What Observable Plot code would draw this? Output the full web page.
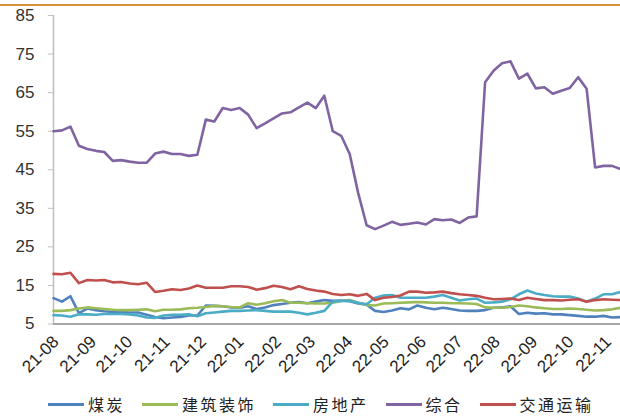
<!DOCTYPE html>
<html>
<head>
<meta charset="utf-8">
<script src="https://cdn.jsdelivr.net/npm/d3@7"></script>
<script src="https://cdn.jsdelivr.net/npm/@observablehq/plot@0.6"></script>
<style>
  html, body { margin: 0; padding: 0; background: #fff; }
  #wrap { position: relative; width: 620px; height: 416px; }
  #topline { position: absolute; left: 0; top: 4px; width: 620px; height: 2px; background: #D4923A; }
  #chart { position: absolute; left: 0; top: 0; }
  #legend { position: absolute; left: 48px; top: 394px; height: 20px; line-height: 20px; display: flex; align-items: center;
            font-family: "Noto Sans CJK SC", sans-serif; font-size: 16px; color: #222; letter-spacing: 2.5px; }
  .item { display: flex; align-items: center; margin-right: 17px; }
  .sw { width: 36px; height: 3px; margin-right: 4px; }
</style>
</head>
<body>
<div id="wrap">
  <div id="topline"></div>
  <div id="chart"></div>
  <div id="legend"></div>
</div>
<script>
// ---- data ----
const startDate = "2021-07-30"; // first weekly observation
const seriesNames = ["煤炭", "建筑装饰", "房地产", "综合", "交通运输"];
const seriesColors = ["#4F81BD", "#9BBB59", "#4BACC6", "#8064A2", "#C0504D"];
const yTicks = [5, 15, 25, 35, 45, 55, 65, 75, 85];
const tickFormat = "%y-%m";

const coal = [11.7, 10.8, 12.2, 7.8, 9.0, 8.6, 8.3, 8.1, 8.1, 8.0, 8.0, 7.4, 6.8, 6.5, 6.7, 6.8, 7.2, 7.2,
  9.8, 9.7, 9.6, 9.3, 9.2, 9.6, 8.9, 9.3, 9.9, 10.2, 10.5, 10.7, 10.4, 10.8, 11.2, 11.0, 11.1, 10.9,
  10.3, 10.0, 8.4, 8.1, 8.5, 9.1, 8.8, 9.8, 9.2, 8.8, 9.2, 8.9, 8.5, 8.4, 8.4, 8.6, 9.2, 9.3, 9.6,
  7.6, 7.9, 7.7, 7.8, 7.5, 7.5, 7.3, 7.1, 6.9, 6.9, 7.1, 6.7, 6.8];
const construction = [8.4, 8.4, 8.6, 9.0, 9.3, 9.1, 8.9, 8.7, 8.6, 8.6, 8.7, 8.8, 8.3, 8.7, 8.7, 8.8, 9.1, 9.2,
  9.4, 9.7, 9.6, 9.4, 9.3, 10.4, 10.0, 10.4, 10.9, 11.2, 10.5, 10.5, 10.4, 10.3, 10.3, 10.5, 11.0, 11.2,
  10.5, 9.9, 9.8, 10.3, 10.4, 10.5, 10.6, 10.7, 10.6, 10.5, 10.5, 10.4, 10.4, 10.3, 10.2, 9.3, 9.2, 9.2,
  9.4, 9.8, 9.6, 9.3, 9.1, 8.9, 8.9, 9.0, 8.9, 8.7, 8.5, 8.6, 8.8, 9.2];
const realEstate = [7.3, 7.2, 6.9, 7.5, 7.5, 7.4, 7.6, 7.6, 7.6, 7.5, 7.2, 6.7, 6.6, 7.2, 7.4, 7.4, 7.5, 7.0,
  7.8, 8.0, 8.2, 8.4, 8.4, 8.5, 8.6, 8.4, 8.2, 8.2, 8.2, 7.9, 7.5, 7.9, 8.4, 10.8, 11.0, 11.0,
  10.5, 10.1, 11.8, 12.4, 12.5, 11.8, 11.8, 11.8, 11.8, 12.1, 12.5, 11.8, 11.1, 11.4, 11.6, 10.5, 10.6, 10.8,
  11.4, 12.7, 13.7, 12.9, 12.5, 12.2, 12.1, 12.1, 11.6, 10.8, 11.6, 12.7, 12.7, 13.3];
const composite = [55.0, 55.2, 56.2, 51.2, 50.4, 49.9, 49.6, 47.3, 47.5, 47.1, 46.8, 46.8, 49.2, 49.7, 49.1, 49.1, 48.6, 48.9,
  58.0, 57.5, 61.0, 60.5, 61.0, 59.3, 55.8, 57.0, 58.3, 59.6, 59.9, 61.2, 62.4, 61.0, 64.2, 55.0, 53.8, 49.1,
  39.0, 30.6, 29.6, 30.5, 31.5, 30.7, 31.0, 31.3, 30.8, 32.2, 31.9, 32.1, 31.2, 32.6, 32.9, 67.7, 70.7, 72.6,
  73.1, 68.6, 69.9, 66.1, 66.4, 64.7, 65.5, 66.2, 69.0, 66.0, 45.6, 46.0, 46.0, 45.2];
const transport = [18.0, 17.9, 18.3, 15.6, 16.4, 16.3, 16.4, 15.8, 15.9, 15.5, 15.3, 15.7, 13.3, 13.6, 14.0, 13.8, 14.2, 15.0,
  14.4, 14.4, 14.4, 14.8, 14.8, 14.6, 13.9, 14.3, 14.9, 14.6, 14.0, 14.8, 14.1, 13.7, 13.4, 12.8, 12.5, 12.7,
  12.3, 12.8, 11.2, 11.8, 12.0, 12.4, 13.4, 13.4, 13.1, 13.2, 13.4, 13.0, 12.7, 12.5, 12.3, 11.8, 11.4, 11.5,
  11.6, 11.2, 11.8, 11.5, 11.2, 11.2, 11.1, 11.3, 11.4, 10.8, 11.2, 11.4, 11.3, 11.2];

// ---- build table ----
const seriesValues = [coal, construction, realEstate, composite, transport];
const t0 = new Date(startDate + "T00:00:00Z");
const dates = coal.map((_, i) => d3.utcWeek.offset(t0, i));
const rows = seriesNames.flatMap((name, s) =>
  seriesValues[s].map((v, i) => ({date: dates[i], value: v, series: name})));
const xDomain = [dates[0], dates[dates.length - 1]];
const monthTicks = d3.utcMonth.range(d3.utcMonth.ceil(xDomain[0]), xDomain[1]);

const chart = Plot.plot({
  width: 620,
  height: 392,
  marginLeft: 53,
  marginRight: 0,
  marginTop: 15,
  marginBottom: 68.5,
  style: {fontFamily: "'Liberation Sans', Arial, sans-serif", fontSize: "17px", color: "#333", background: "transparent"},
  x: {type: "utc", domain: xDomain, label: null},
  y: {domain: [5, 85], label: null},
  color: {domain: seriesNames, range: seriesColors},
  marks: [
    Plot.axisY({ticks: yTicks, tickSize: 5, tickPadding: 14, stroke: "#BFBFBF", fill: "#333", fontSize: 17, label: null}),
    Plot.axisX({ticks: monthTicks, tickFormat: tickFormat, tickSize: 0, tickPadding: 15, tickRotate: -45, fill: "#222", fontSize: 17, label: null}),
    Plot.ruleX([xDomain[0]], {stroke: "#BFBFBF", strokeWidth: 1.5}),
    Plot.lineY(rows, {x: "date", y: "value", z: "series", stroke: "series", strokeWidth: 2.6, strokeLinejoin: "round"}),
    Plot.ruleY([5], {stroke: "#A6A6A6", strokeWidth: 2})
  ]
});
document.getElementById("chart").appendChild(chart);

// ---- legend ----
const legend = document.getElementById("legend");
seriesNames.forEach((name, i) => {
  const item = document.createElement("div");
  item.className = "item";
  const sw = document.createElement("div");
  sw.className = "sw";
  sw.style.background = seriesColors[i];
  const label = document.createElement("span");
  label.textContent = name;
  item.appendChild(sw);
  item.appendChild(label);
  legend.appendChild(item);
});
</script>
</body>
</html>
